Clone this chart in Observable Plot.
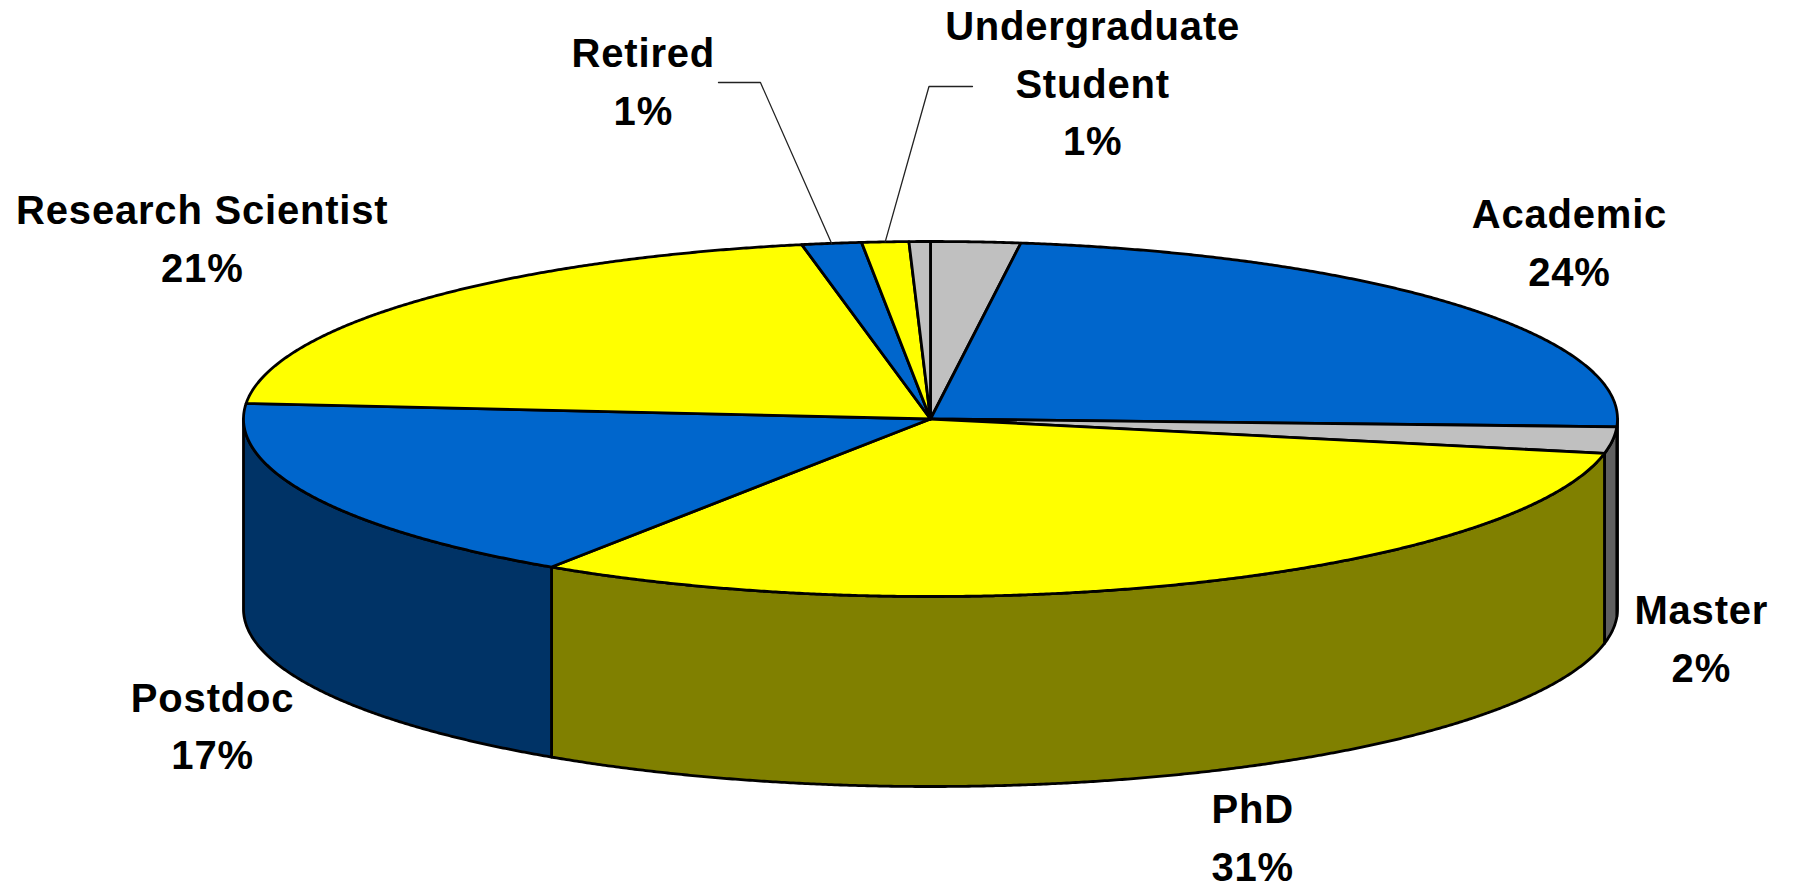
<!DOCTYPE html>
<html><head><meta charset="utf-8">
<script src="https://cdn.jsdelivr.net/npm/d3@7"></script>
<script src="https://cdn.jsdelivr.net/npm/@observablehq/plot@0.6"></script>
<style>html,body{margin:0;padding:0;background:#fff;overflow:hidden}</style>
</head><body><div id="chart"></div>
<script>
// ---- data ----
const categories = ["Other", "Academic", "Master", "PhD", "Postdoc", "Research Scientist", "Retired", "Undergraduate Student", "Not specified"];
const values = [2.1, 23.6, 2.4, 31.2, 17.1, 20.6, 1.4, 1.1, 0.5];
const labelNames = [null, "Academic", "Master", "PhD", "Postdoc", "Research Scientist", "Retired", "Undergraduate\nStudent", null];

// ---- styles ----
const topColors  = ["#C0C0C0", "#0066CC", "#C0C0C0", "#FFFF00", "#0066CC", "#FFFF00", "#0066CC", "#FFFF00", "#C0C0C0"];
const sideColors = ["#606060", "#003366", "#606060", "#808000", "#003366", "#808000", "#003366", "#808000", "#606060"];

// ---- layout (pie-radius units, y downward) ----
const tilt = 0.2584;   // ellipse ry / rx
const depth = 0.2766;  // pie thickness / rx
const labelPos = {
  "Academic": [0.930, -0.263],
  "Master": [1.122, 0.314],
  "PhD": [0.469, 0.6035],
  "Postdoc": [-1.045, 0.441],
  "Research Scientist": [-1.060, -0.269],
  "Retired": [-0.418, -0.497],
  "Undergraduate Student": [0.236, -0.495]
};
const leaderElbows = {
  "Retired": [[-0.3086, -0.4898], [-0.2475, -0.4898]],
  "Undergraduate Student": [[0.0611, -0.484], [-0.0022, -0.484]]
};

// ---- geometry ----
const total = d3.sum(values);
const pt = (deg, dz = 0) => { const r = deg * Math.PI / 180; return {x: Math.sin(r), y: -tilt * Math.cos(r) + dz}; };
const arc = (a, b, dz = 0) => { const n = Math.max(2, Math.ceil(Math.abs(b - a) / 0.25)); return d3.range(n + 1).map(i => pt(a + (b - a) * i / n, dz)); };

let acc = 0;
const slices = categories.map((c, i) => {
  const a = acc / total * 360; acc += values[i]; const b = acc / total * 360;
  return {name: c, i, a, b, mid: (a + b) / 2, pct: Math.round(values[i] / total * 100) + "%"};
});

const sidePolys = [];
const topPolys = [];
for (const s of slices) {
  const a = Math.max(s.a, 90), b = Math.min(s.b, 270);
  if (b > a) {
    const top = arc(a, b, 0), bot = arc(b, a, depth);
    sidePolys.push({fill: sideColors[s.i], pts: [...top, ...bot, top[0]]});
  }
  const c = {x: 0, y: 0};
  topPolys.push({fill: topColors[s.i], pts: [c, ...arc(s.a, s.b, 0), c]});
}

const leaders = Object.entries(leaderElbows).map(([name, elbow]) => {
  const s = slices.find(d => d.name === name);
  return [...elbow.map(([x, y]) => ({x, y})), pt(s.mid)];
});

const labels = slices.filter(s => labelNames[s.i]).map(s => ({
  x: labelPos[s.name][0], y: labelPos[s.name][1], text: labelNames[s.i] + "\n" + s.pct
}));

const W = 1793, H = 889;
const polyOpts = {x: "x", y: "y", stroke: "black", strokeWidth: 2.8, strokeLinejoin: "round", strokeLinecap: "round"};
const chart = Plot.plot({
  width: W, height: H,
  margin: 0,
  x: {domain: [-1.3537, 1.2562], range: [0, W], axis: null},
  y: {domain: [-0.6092, 0.6849], range: [0, H], axis: null},
  marks: [
    ...sidePolys.map(p => Plot.line(p.pts, {...polyOpts, fill: p.fill})),
    ...topPolys.map(p => Plot.line(p.pts, {...polyOpts, fill: p.fill})),
    ...leaders.map(l => Plot.line(l, {x: "x", y: "y", stroke: "#222", strokeWidth: 1.3})),
    Plot.text(labels, {x: "x", y: "y", text: "text", fontSize: 40, fontWeight: "bold",
      fontFamily: "'Liberation Sans', Arial, sans-serif", lineHeight: 1.45, fill: "black"})
  ]
});
chart.querySelectorAll("text").forEach(t => t.setAttribute("letter-spacing", "0.8"));
document.getElementById("chart").appendChild(chart);
</script>
</body></html>
